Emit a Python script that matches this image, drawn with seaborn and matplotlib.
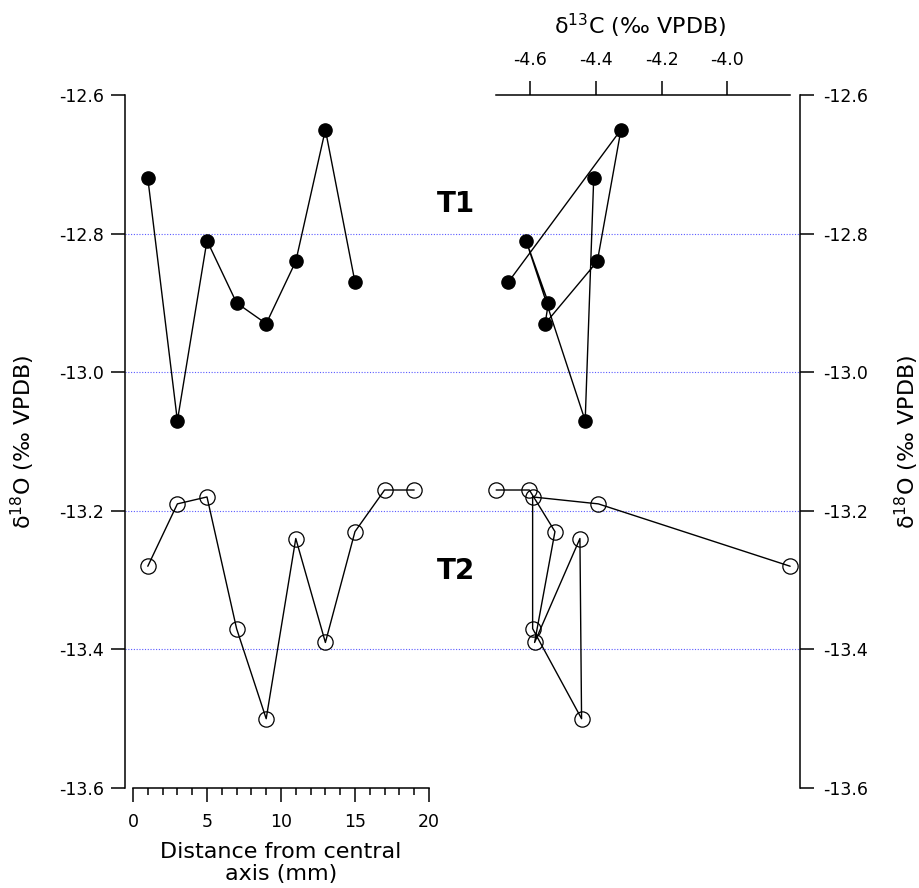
import pandas as pd
import matplotlib
matplotlib.use("Agg")
import matplotlib.pyplot as plt
import seaborn as sns
from matplotlib.ticker import FixedLocator, FormatStrFormatter

# Data
t1_dist = [1, 3, 5, 7, 9, 11, 13, 15]
t1_d18o = [-12.72, -13.07, -12.81, -12.90, -12.93, -12.84, -12.65, -12.87]
t1_d13c = [-4.407, -4.433, -4.613, -4.545, -4.555, -4.396, -4.324, -4.667]

t2_dist = [1, 3, 5, 7, 9, 11, 13, 15, 17, 19]
t2_d18o = [-13.28, -13.19, -13.18, -13.37, -13.50, -13.24, -13.39, -13.23, -13.17, -13.17]
t2_d13c = [-3.809, -4.393, -4.593, -4.593, -4.444, -4.449, -4.587, -4.525, -4.603, -4.704]

d18o_ticks = [-13.6, -13.4, -13.2, -13.0, -12.8, -12.6]
d13c_ticks = [-4.6, -4.4, -4.2, -4.0]
dist_ticks = [0, 5, 10, 15, 20]
grid_levels = [-12.8, -13.0, -13.2, -13.4]

df_t1 = pd.DataFrame({"dist": t1_dist, "d18o": t1_d18o, "d13c": t1_d13c})
df_t2 = pd.DataFrame({"dist": t2_dist, "d18o": t2_d18o, "d13c": t2_d13c})

sns.set_theme(style="ticks")
plt.rcParams["font.family"] = ["DejaVu Sans"]
plt.rcParams["axes.unicode_minus"] = False
plt.rcParams["mathtext.default"] = "regular"
plt.rcParams["text.color"] = "black"

fig = plt.figure(figsize=(9.2, 8.88), dpi=100)
ax = fig.add_axes([125 / 920, 1 - 788 / 888, 675 / 920, 693 / 888])
ax.set_facecolor("white")

for lev in grid_levels:
    ax.axhline(lev, color="#5a5aff", ls=(0, (1, 1.5)), lw=0.8, zorder=0)

filled = dict(color="black", lw=1.0, marker="o", markersize=9.5,
              markerfacecolor="black", markeredgecolor="black", markeredgewidth=1.0)
hollow = dict(color="black", lw=1.0, marker="o", markersize=11,
              markerfacecolor="none", markeredgecolor="black", markeredgewidth=0.9)

# left panel: distance from axis
sns.lineplot(data=df_t1, x="dist", y="d18o", ax=ax, sort=False, estimator=None, **filled)
sns.lineplot(data=df_t2, x="dist", y="d18o", ax=ax, sort=False, estimator=None, **hollow)
ax.set_xlim(-0.54, 45.07)
ax.set_ylim(-13.6, -12.6)

# right panel: d13C vs d18O
ax_top = ax.twiny()
sns.lineplot(data=df_t1, x="d13c", y="d18o", ax=ax_top, sort=False, estimator=None, **filled)
sns.lineplot(data=df_t2, x="d13c", y="d18o", ax=ax_top, sort=False, estimator=None, **hollow)
ax_top.set_xlim(-5.834, -3.779)

ax_r = ax.twinx()
ax_r.set_ylim(ax.get_ylim())

for a in (ax, ax_top, ax_r):
    for s in a.spines.values():
        s.set_visible(False)
        s.set_linewidth(1.1)
        s.set_color("black")

ax.spines["left"].set_visible(True)
ax.spines["bottom"].set_visible(True)
ax.spines["bottom"].set_bounds(0, 20)
ax_top.spines["top"].set_visible(True)
all_d13c = t1_d13c + t2_d13c
ax_top.spines["top"].set_bounds(min(all_d13c), max(all_d13c))
ax_r.spines["right"].set_visible(True)

ax.yaxis.set_major_locator(FixedLocator(d18o_ticks))
ax.yaxis.set_major_formatter(FormatStrFormatter("%.1f"))
ax_r.yaxis.set_major_locator(FixedLocator(d18o_ticks))
ax_r.yaxis.set_major_formatter(FormatStrFormatter("%.1f"))
ax.xaxis.set_major_locator(FixedLocator(dist_ticks))
ax.xaxis.set_minor_locator(FixedLocator(list(range(0, 21))))
ax_top.xaxis.set_major_locator(FixedLocator(d13c_ticks))
ax_top.xaxis.set_major_formatter(FormatStrFormatter("%.1f"))

tick_kw = dict(direction="out", length=10, width=1.1, labelsize=12.5, color="black", labelcolor="black")
ax.tick_params(axis="y", pad=5, **tick_kw)
ax.tick_params(axis="x", which="major", pad=8, **tick_kw)
ax.tick_params(axis="x", which="minor", direction="out", length=5, width=1.1, color="black")
ax_top.tick_params(axis="x", pad=9, **tick_kw)
ax_r.tick_params(axis="y", pad=7, **tick_kw)

lab_kw = dict(fontsize=16, color="black")
ax.set_xlabel("Distance from central\naxis (mm)", linespacing=1.1, **lab_kw)
ax.xaxis.set_label_coords(0.231, -0.078)
ax.set_ylabel("δ$^{18}$O (‰ VPDB)", **lab_kw)
ax.yaxis.set_label_coords(-0.131, 0.5)
ax_top.set_xlabel("δ$^{13}$C (‰ VPDB)", **lab_kw)
ax_top.xaxis.set_label_coords(0.763, 1.088)
ax_r.set_ylabel("δ$^{18}$O (‰ VPDB)", **lab_kw)
ax_r.yaxis.set_label_coords(1.138, 0.5)

ax.text(21.8, -12.757, "T1", fontsize=20, fontweight="bold", color="black",
        ha="center", va="center")
ax.text(21.8, -13.287, "T2", fontsize=20, fontweight="bold", color="black",
        ha="center", va="center")

fig.savefig("out.png", dpi=100)
